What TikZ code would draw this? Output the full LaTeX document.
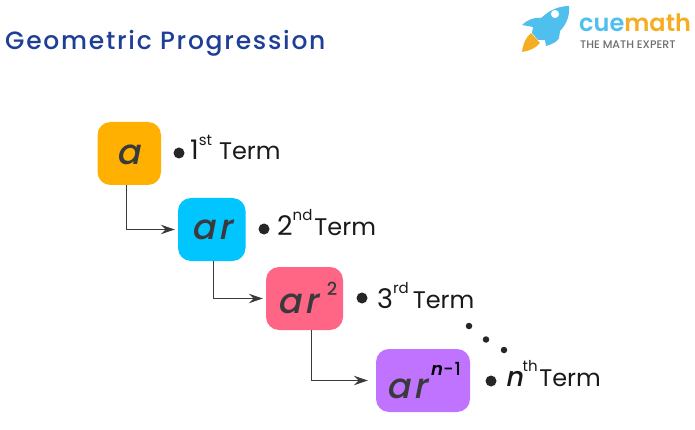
\documentclass[tikz,border=0pt]{standalone}
\usepackage{fontspec}
\setmainfont{Poppins}
\newfontfamily\medfont{Poppins Medium}
\newfontfamily\semifont{Poppins SemiBold}
\usetikzlibrary{arrows.meta}
\definecolor{titleblue}{HTML}{1F3F96}
\definecolor{logoblue}{HTML}{4FC0EE}
\definecolor{logoorange}{HTML}{F5AE22}
\definecolor{logogray}{HTML}{6B6F72}
\definecolor{ink}{HTML}{3A3A3C}
\definecolor{cA}{HTML}{FFB000}
\definecolor{cB}{HTML}{00C5FF}
\definecolor{cC}{HTML}{FF6685}
\definecolor{cD}{HTML}{BF73FF}
\tikzset{
  x=1pt,y=-1pt,
  termbox/.style={rounded corners=13pt,minimum height=63pt,inner sep=0pt},
  symtext/.style={anchor=base,inner sep=0pt,text=ink,font=\medfont\fontsize{35}{35}\selectfont\addfontfeature{FakeSlant=0.2}},
  exptext/.style={anchor=base,inner sep=0pt,font=\medfont\fontsize{18}{18}\selectfont},
  conn/.style={draw=ink,line width=1.2pt,-{Stealth[length=14pt,width=9.5pt,inset=5pt]}},
  bigdot/.style={circle,fill=black!85,inner sep=0pt,minimum size=11pt},
  smalldot/.style={circle,fill=black!85,inner sep=0pt,minimum size=6.5pt},
  termlabel/.style={anchor=base west,inner sep=0pt,text=black!90,font=\fontsize{24}{24}\selectfont},
}
\newcommand{\ordn}[3]{{\fontsize{27}{27}\selectfont #1}\raisebox{14.5pt}{\fontsize{15}{15}\selectfont #2}\hspace{#3}Term}
\begin{document}
\begin{tikzpicture}
\useasboundingbox (0,0) rectangle (695,430);
\fill[white] (0,0) rectangle (695,430);
% title
\node[anchor=base west,inner sep=0pt,text=titleblue,font=\medfont\fontsize{25}{25}\selectfont\addfontfeature{LetterSpace=7}] (title) at (5,50) {Geometric Progression};
% logo rocket
\fill[logoorange] (522,52) .. controls (523,44) and (526,37) .. (531,33) -- (540,43) .. controls (536,48) and (529,51) .. (522,52) -- cycle;
\fill[logoblue,even odd rule] (569,6) .. controls (570,14) and (567,24) .. (560,31) -- (559,38) .. controls (558,41) and (553,44) .. (546,46) -- (545,40) -- (538,40) -- (532,33) -- (533,27) -- (522,25) .. controls (527,20) and (534,17) .. (541,18) -- (546,14) .. controls (552,9) and (561,6) .. (569,6) -- cycle (555,14) circle[radius=4.2];
\node[anchor=base west,inner sep=0pt,font=\semifont\fontsize{24}{24}\selectfont] (logo) at (579,32) {\textcolor{logoblue}{cue}\textcolor{logoorange}{math}};
\node[anchor=base west,inner sep=0pt,text=logogray,font=\medfont\fontsize{11}{11}\selectfont] (tag) at (580,49) {THE MATH EXPERT};
% boxes
\node[termbox,fill=cA,minimum width=63.5pt] (a) at (129.25,153.5) {};
\node[symtext] (at) at (128,165) {a};
\node[termbox,fill=cB,minimum width=67.5pt] (ar) at (211.75,229.5) {};
\node[symtext] (art) at (212,240) {a\hspace{3pt}r};
\node[termbox,fill=cC,minimum width=77pt] (ar2) at (304.5,298.5) {};
\node[symtext] (ar2t) at (298,313) {a\hspace{3pt}r};
\node[exptext,text=ink] (ar2e) at (332,295) {2};
\node[termbox,fill=cD,minimum width=94pt] (arn) at (423,380.5) {};
\node[symtext] (arnt) at (407,398) {a\hspace{3pt}r};
\node[exptext,text=black] (arne) at (445.5,375) {\semifont\addfontfeature{FakeSlant=0.2}n\medfont\addfontfeature{FakeSlant=0}\hspace{1pt}-\hspace{1pt}1};
% connectors
\draw[conn,shorten >=3pt] ([xshift=-3pt]a.south) |- (ar.west);
\draw[conn,shorten >=3pt] ([xshift=1.5pt]ar.south) |- (ar2.west);
\draw[conn,shorten >=8pt] ([xshift=7pt]ar2.south) |- (arn.west);
% bullets
\node[bigdot] (d1) at (179,153) {};
\node[bigdot] (d2) at (264,229) {};
\node[bigdot] (d3) at (362,298) {};
\node[bigdot] (d4) at (491,381) {};
\node[smalldot] (e1) at (469,326) {};
\node[smalldot] (e2) at (486,339.5) {};
\node[smalldot] (e3) at (504,350) {};
% labels
\node[termlabel] (t1) at (190,160) {\ordn{1}{st}{7pt}};
\node[termlabel] (t2) at (277,235) {\ordn{2}{nd}{2pt}};
\node[termlabel] (t3) at (377,308) {\ordn{3}{rd}{4pt}};
\node[termlabel] (t4) at (505,386) {\ordn{\medfont\addfontfeature{FakeSlant=0.2}n}{th}{1.5pt}};
\end{tikzpicture}
\end{document}
